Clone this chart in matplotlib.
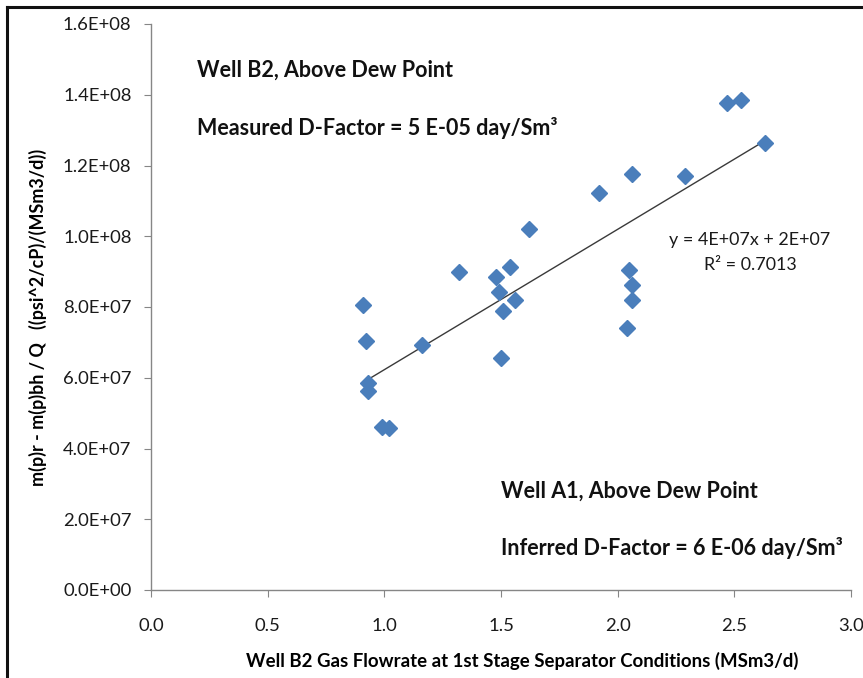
import numpy as np
import matplotlib
matplotlib.use("Agg")
import matplotlib.pyplot as plt
from matplotlib.lines import Line2D
from matplotlib.ticker import FuncFormatter

plt.rcParams['font.family'] = ['Lato', 'DejaVu Sans']

# Gas flowrate (MSm3/d) and pseudo-pressure drop per unit rate
flowrate = [0.91, 0.92, 0.93, 0.93, 0.99, 1.02, 1.16, 1.32, 1.48, 1.49,
            1.54, 1.56, 1.51, 1.50, 1.62, 1.92, 2.06, 2.29, 2.47, 2.53,
            2.63, 2.05, 2.06, 2.06, 2.04]
dm_over_q = [8.06e7, 7.04e7, 5.85e7, 5.63e7, 4.60e7, 4.58e7, 6.93e7, 8.99e7,
             8.85e7, 8.42e7, 9.13e7, 8.20e7, 7.89e7, 6.56e7, 1.02e8, 1.122e8,
             1.176e8, 1.170e8, 1.377e8, 1.385e8, 1.264e8, 9.05e7, 8.62e7,
             8.20e7, 7.41e7]

x_ticks = [0.0, 0.5, 1.0, 1.5, 2.0, 2.5, 3.0]
y_ticks = [0.0, 2e7, 4e7, 6e7, 8e7, 1e8, 1.2e8, 1.4e8, 1.6e8]

fig = plt.figure(figsize=(8.63, 6.78), dpi=100)
ax = fig.add_axes([151/863, 1 - 590/678, 700/863, 566/678])

x = np.array(flowrate)
y = np.array(dm_over_q)
ax.plot(x, y, linestyle='none', marker='D', markersize=8,
        color='#4A7EBB', markeredgecolor='#4A7EBB', zorder=3)

# Linear trendline across the data range
slope, intercept = np.polyfit(x, y, 1)
xf = np.array([x.min(), x.max()])
ax.plot(xf, slope * xf + intercept, color='#3a3a3a', lw=1.0, zorder=2)

ax.set_xlim(0, 3.0)
ax.set_ylim(0, 1.6e8)
ax.set_xticks(x_ticks)
ax.set_yticks(y_ticks)
ax.xaxis.set_major_formatter(FuncFormatter(lambda v, p: f"{v:.1f}"))


def sci(v, p):
    if v == 0:
        return "0.0E+00"
    e = int(np.floor(np.log10(v)))
    m = v / 10**e
    return f"{m:.1f}E+{e:02d}"


ax.yaxis.set_major_formatter(FuncFormatter(sci))

for s in ['top', 'right']:
    ax.spines[s].set_visible(False)
for s in ['left', 'bottom']:
    ax.spines[s].set_color('#868686')
    ax.spines[s].set_linewidth(1.0)
ax.tick_params(axis='both', direction='out', length=5, color='#868686',
               labelsize=13.3, labelcolor='#1a1a1a')
ax.tick_params(axis='x', pad=15)
ax.tick_params(axis='y', pad=9)

ax.set_xlabel("Well B2 Gas Flowrate at 1st Stage Separator Conditions (MSm3/d)",
              fontsize=13.4, fontweight='bold', va='center')
ax.set_ylabel("m(p)r - m(p)bh / Q   ((psi^2/cP)/(MSm3/d))",
              fontsize=12.9, fontweight='bold', va='center')
ax.xaxis.set_label_coords((522 - 151) / 700, -(661 - 590) / 566)
ax.yaxis.set_label_coords((38 - 151) / 700, (590 - 317) / 566)

bold_kw = dict(fontsize=15.5, fontweight='bold', color='#111111', va='center')
ax.text(0.197, 1.47e8, "Well B2, Above Dew Point", ha='left', **bold_kw)
ax.text(0.197, 1.306e8, "Measured D-Factor = 5 E-05 day/Sm³", ha='left', **bold_kw)
ax.text(1.498, 2.80e7, "Well A1, Above Dew Point", ha='left', **bold_kw)
ax.text(1.498, 1.19e7, "Inferred D-Factor = 6 E-06 day/Sm³", ha='left', **bold_kw)

ax.text(2.567, 9.89e7, "y = 4E+07x + 2E+07", ha='center', va='center',
        fontsize=12.9, color='#1a1a1a')
ax.text(2.567, 9.19e7, "R² = 0.7013", ha='center', va='center',
        fontsize=12.9, color='#1a1a1a')

# Outer frame along left and top edges
fx0, fy0 = 7/863, 1 - 7/678
fig.add_artist(Line2D([fx0, fx0], [0, fy0], transform=fig.transFigure,
                      color='#111111', lw=2.2))
fig.add_artist(Line2D([fx0, 1], [fy0, fy0], transform=fig.transFigure,
                      color='#111111', lw=2.2))

fig.savefig("out.png", dpi=100)
